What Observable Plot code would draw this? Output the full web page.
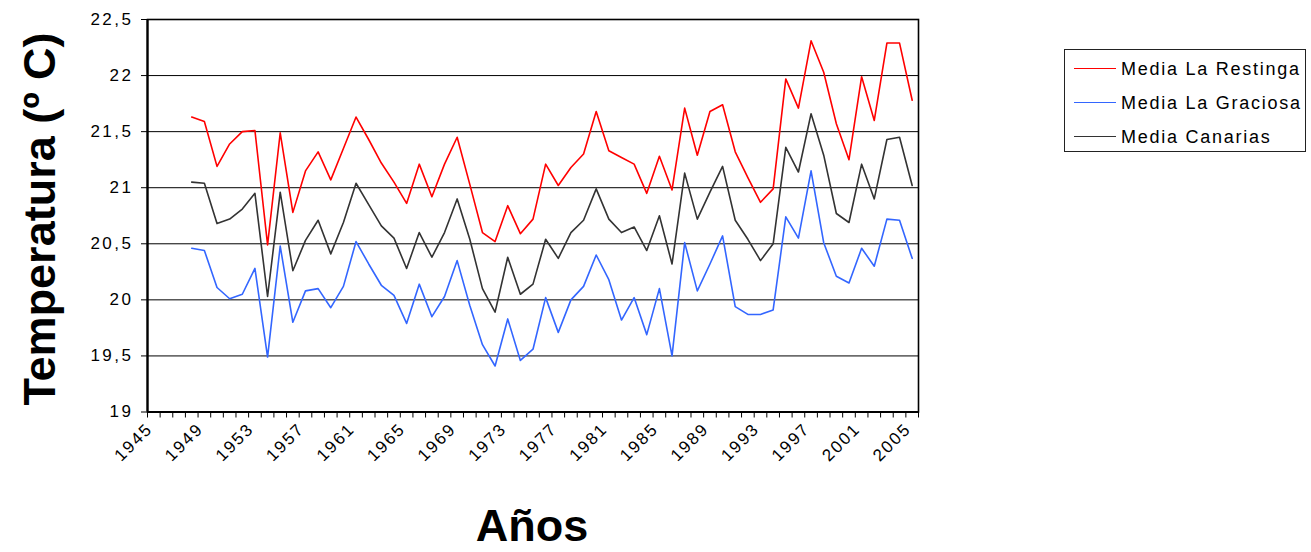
<!DOCTYPE html>
<html>
<head>
<meta charset="utf-8">
<script src="https://cdn.jsdelivr.net/npm/d3@7"></script>
<script src="https://cdn.jsdelivr.net/npm/@observablehq/plot@0.6"></script>
<style>
  body { margin: 0; background: #fff; font-family: "Liberation Sans", Arial, sans-serif; }
  #wrap { position: relative; width: 1311px; height: 552px; overflow: hidden; background: #fff; }
  #chart svg { position: absolute; left: 0; top: 0; }
  #chart g[aria-label="y-axis tick label"] text { letter-spacing: 2.5px; }
  #chart g[aria-label="x-axis tick label"] text { letter-spacing: 2px; }
  .ytitle { position: absolute; left: 39px; top: 219px; transform: translate(-50%, -50%) rotate(-90deg);
            font-weight: bold; font-size: 45px; line-height: 1; white-space: nowrap; color: #000; }
  .xtitle { position: absolute; left: 532px; top: 508px; transform: translateX(-50%);
            font-weight: bold; font-size: 45px; line-height: 36px; white-space: nowrap; color: #000; }
  #legend { position: absolute; left: 1064px; top: 49px; width: 242px; height: 103px;
            border: 1px solid #222; box-sizing: border-box; }
  .li { position: absolute; left: 0; height: 20px; width: 100%; }
  .li .sw { position: absolute; left: 9px; top: 9px; width: 42px; height: 0; border-top: 1.5px solid; }
  .li .lab { position: absolute; left: 56px; top: 0; font-size: 18px; line-height: 20px; letter-spacing: 1.75px; white-space: nowrap; color: #000; }
</style>
</head>
<body>
<div id="wrap">
  <div id="chart"></div>
  <div class="ytitle">Temperatura (º C)</div>
  <div class="xtitle">Años</div>
  <div id="legend"></div>
</div>
<script>
const years = [1948,1949,1950,1951,1952,1953,1954,1955,1956,1957,
  1958,1959,1960,1961,1962,1963,1964,1965,1966,1967,
  1968,1969,1970,1971,1972,1973,1974,1975,1976,1977,
  1978,1979,1980,1981,1982,1983,1984,1985,1986,1987,
  1988,1989,1990,1991,1992,1993,1994,1995,1996,1997,
  1998,1999,2000,2001,2002,2003,2004,2005];

const restinga = [21.63,21.59,21.19,21.39,21.50,21.51,20.49,21.49,20.78,21.15,
  21.32,21.07,21.35,21.63,21.43,21.22,21.05,20.86,21.21,20.92,
  21.21,21.45,21.03,20.60,20.52,20.84,20.59,20.72,21.21,21.02,
  21.18,21.30,21.68,21.33,21.27,21.21,20.95,21.28,20.98,21.71,
  21.29,21.68,21.74,21.32,21.09,20.87,20.99,21.97,21.71,22.31,
  22.03,21.57,21.25,21.99,21.60,22.29,22.29,21.78];

const graciosa = [20.46,20.44,20.11,20.01,20.05,20.28,19.49,20.48,19.80,20.08,
  20.10,19.93,20.12,20.52,20.32,20.13,20.04,19.79,20.14,19.85,
  20.03,20.35,19.95,19.60,19.41,19.83,19.46,19.56,20.02,19.71,
  20.00,20.12,20.40,20.18,19.82,20.02,19.69,20.10,19.50,20.51,
  20.08,20.32,20.57,19.94,19.87,19.87,19.91,20.74,20.55,21.15,
  20.51,20.21,20.15,20.46,20.30,20.72,20.71,20.37];

const canarias = [21.05,21.04,20.68,20.72,20.81,20.95,20.03,20.96,20.26,20.53,
  20.71,20.41,20.69,21.04,20.85,20.66,20.55,20.28,20.60,20.38,
  20.60,20.90,20.54,20.10,19.89,20.38,20.05,20.14,20.54,20.37,
  20.60,20.71,20.99,20.72,20.60,20.65,20.44,20.75,20.32,21.13,
  20.72,20.96,21.19,20.71,20.54,20.35,20.50,21.36,21.14,21.66,
  21.29,20.77,20.69,21.21,20.90,21.43,21.45,21.02];

const seriesNames = ["Media La Restinga", "Media La Graciosa", "Media Canarias"];
const seriesColors = ["#ff0000", "#3366ff", "#333333"];

const xCategories = [1945,1946,1947,1948,1949,1950,1951,1952,1953,1954,1955,1956,1957,1958,1959,1960,
  1961,1962,1963,1964,1965,1966,1967,1968,1969,1970,1971,1972,1973,1974,1975,1976,1977,1978,1979,1980,
  1981,1982,1983,1984,1985,1986,1987,1988,1989,1990,1991,1992,1993,1994,1995,1996,1997,1998,1999,2000,
  2001,2002,2003,2004,2005];
const xTickLabels = [1945,1949,1953,1957,1961,1965,1969,1973,1977,1981,1985,1989,1993,1997,2001,2005];
const yTicks = [19,19.5,20,20.5,21,21.5,22,22.5];

const series = [restinga, graciosa, canarias];
const data = [];
series.forEach((vals, s) => vals.forEach((v, i) => data.push({year: years[i], value: v, series: seriesNames[s]})));

const first = xCategories[0], last = xCategories[xCategories.length - 1];
const boundaries = xCategories.map(c => c - 0.5).concat([last + 0.5]);

const chart = Plot.plot({
  width: 1311,
  height: 552,
  marginLeft: 147,
  marginRight: 393,
  marginTop: 19,
  marginBottom: 140.5,
  style: {fontFamily: "'Liberation Sans', Arial, sans-serif", fontSize: "17px", background: "transparent", color: "#000", overflow: "visible"},
  x: {type: "linear", domain: [first - 0.5, last + 0.5]},
  y: {domain: [19, 22.5]},
  color: {domain: seriesNames, range: seriesColors},
  marks: [
    Plot.gridY(yTicks, {stroke: "#000", strokeOpacity: 1, strokeWidth: 1}),
    Plot.axisY(yTicks, {tickSize: 6, tickPadding: 8, label: null, fontSize: 17,
      tickFormat: d => String(d).replace(".", ","), stroke: "#000"}),
    Plot.axisX(boundaries, {tickSize: 6, tickFormat: () => "", label: null, stroke: "#000"}),
    Plot.axisX(xTickLabels, {tickSize: 0, tickPadding: 14, tickRotate: -45, label: null, fontSize: 17, dx: -4,
      tickFormat: d => String(d)}),
    Plot.line(data, {x: "year", y: "value", z: "series", stroke: "series", strokeWidth: 1.6}),
    Plot.frame({stroke: "#000", strokeWidth: 1.6}),
    Plot.ruleX([first - 0.5], {stroke: "#000", strokeWidth: 2.2}),
    Plot.ruleY([19], {stroke: "#000", strokeWidth: 2})
  ]
});
document.getElementById("chart").appendChild(chart);

const legend = document.getElementById("legend");
const rowTops = [9, 43, 77];
seriesNames.forEach((name, i) => {
  const row = document.createElement("div");
  row.className = "li";
  row.style.top = rowTops[i] + "px";
  const sw = document.createElement("div");
  sw.className = "sw";
  sw.style.borderTopColor = seriesColors[i];
  const lab = document.createElement("div");
  lab.className = "lab";
  lab.textContent = name;
  row.appendChild(sw);
  row.appendChild(lab);
  legend.appendChild(row);
});
</script>
</body>
</html>
